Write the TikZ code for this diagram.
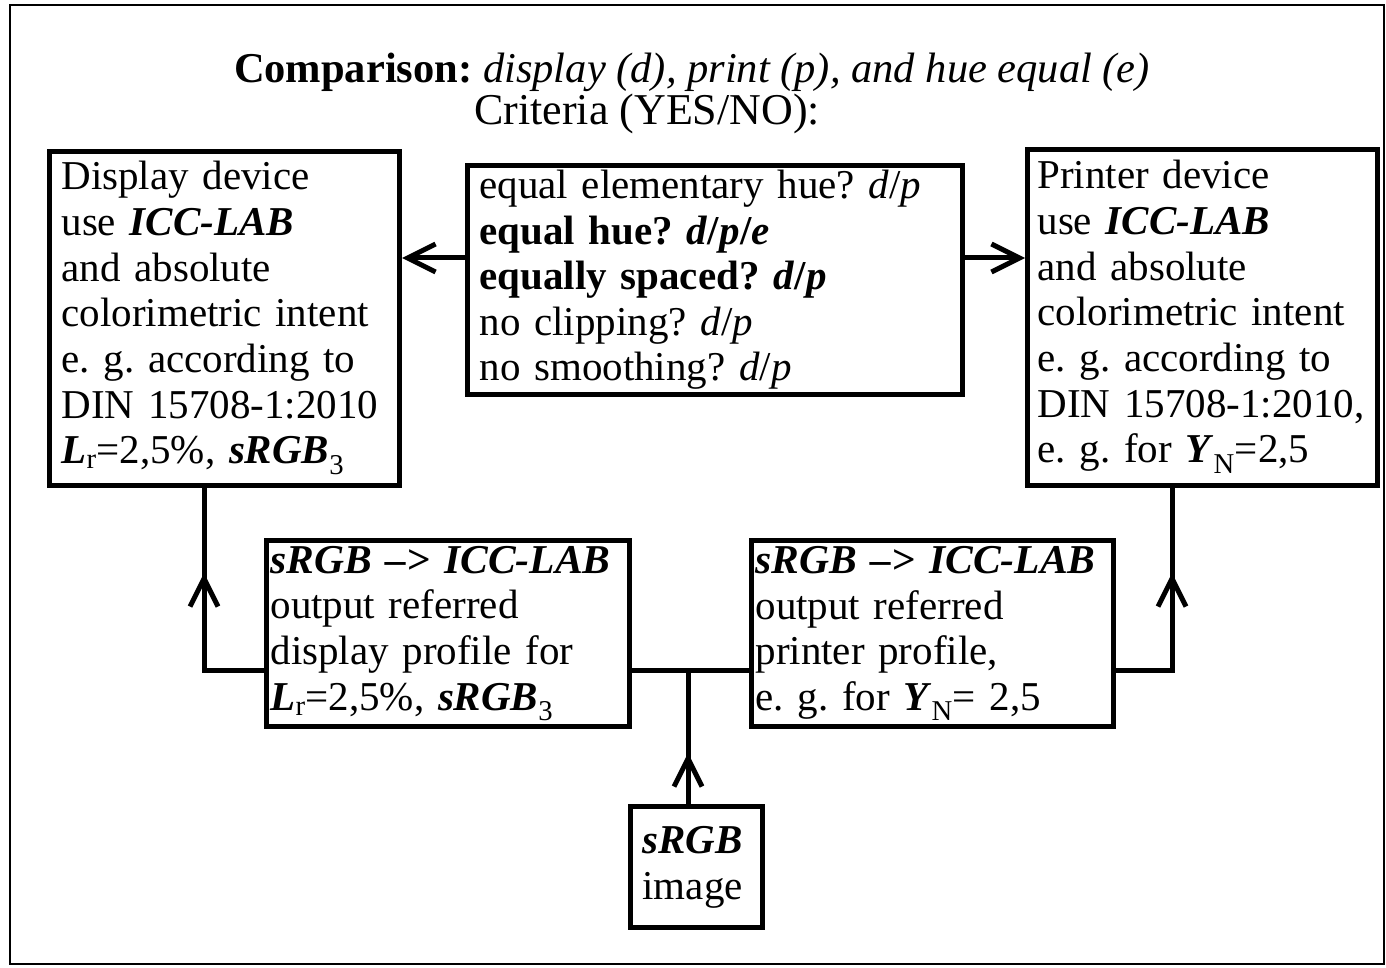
\documentclass[tikz,border=0pt]{standalone}
\usepackage{fontspec}
\usepackage{graphicx}
\setmainfont{Liberation Serif}
\usetikzlibrary{arrows.meta}
\newcommand{\bi}[1]{\textbf{\textit{#1}}}
\newcommand{\dn}[1]{\rule[-#1]{0pt}{0pt}}
\frenchspacing
\begin{document}
\frenchspacing
\begin{tikzpicture}[x=1pt,y=-1pt,
  txt/.style={font=\fontsize{41}{45.7}\selectfont\frenchspacing},
  box/.style={draw, line width=5pt, anchor=north west, align=left, inner xsep=12pt, inner ysep=0pt, txt},
  conn/.style={line width=5pt},
  arr/.style={line width=5pt, -{Straight Barb[length=28pt,width=28pt]}}
]
\useasboundingbox (0,0) rectangle (1386,968);
\fill[white] (0,0) rectangle (1386,968);
\draw[line width=2pt] (10,5) rectangle (1384,964);

\node[font=\fontsize{42.5}{46}\selectfont, anchor=base, inner sep=0pt] (title) at (692,83) {\textbf{Comparison:} \textit{display (d), print (p), and hue equal (e)}};
\node[font=\fontsize{44}{46}\selectfont, anchor=base west, inner sep=0pt] (crit) at (474,125) {Criteria (YES/NO):};

\node[box, minimum width=350pt, minimum height=334pt, text width=326pt] (L) at (47,149)
 {Display device\\use \bi{ICC-LAB}\\and absolute\\colorimetric intent\\e. g. according to\\DIN 15708-1:2010\\\bi{L}\textsubscript{r}=2,5\%, \bi{sRGB}\textsubscript{3}\dn{12pt}};

\node[box, minimum width=495pt, minimum height=229pt, text width=471pt, font=\fontsize{41}{45.5}\selectfont\frenchspacing] (C) at (465,163)
 {equal elementary hue? \textit{d}/\textit{p}\\\textbf{equal hue? \bi{d}/\bi{p}/\bi{e}}\\\textbf{equally spaced? \bi{d}/\bi{p}}\\no clipping? \textit{d}/\textit{p}\\no smoothing? \textit{d}/\textit{p}};

\node[box, minimum width=350pt, minimum height=336pt, text width=330pt, inner xsep=10pt] (R) at (1025,147)
 {Printer device\\use \bi{ICC-LAB}\\and absolute\\colorimetric intent\\e. g. according to\\DIN 15708-1:2010,\\e. g. for \bi{Y}\textsubscript{N}=2,5\dn{12pt}};

\node[box, minimum width=363pt, minimum height=186pt, text width=355pt, inner xsep=4pt] (SL) at (264,538)
 {\resizebox{340pt}{\height}{\bi{sRGB --> ICC-LAB}}\\output referred\\display profile for\\\bi{L}\textsubscript{r}=2,5\%, \bi{sRGB}\textsubscript{3}\dn{6pt}};

\node[box, minimum width=362pt, minimum height=186pt, text width=354pt, inner xsep=4pt] (SR) at (749,538)
 {\resizebox{340pt}{\height}{\bi{sRGB --> ICC-LAB}}\\output referred\\printer profile,\\e. g. for \bi{Y}\textsubscript{N}= 2,5\dn{6pt}};

\node[box, minimum width=132pt, minimum height=121pt, text width=108pt] (I) at (628,804)
 {\bi{sRGB}\\image};

% horizontal arrows from criteria box
\coordinate (ah) at (0,258);
\draw[arr] (C.west |- ah) -- (L.east |- ah);
\draw[arr] (C.east |- ah) -- (R.west |- ah);

% bottom connectors
\coordinate (J) at (688,670);
\coordinate (lc) at (204,670);
\coordinate (lt) at (204,573);
\coordinate (rc) at (1172,670);
\coordinate (rt) at (1172,573);
\coordinate (it) at (688,753);
\draw[conn] (SL.east |- J) -- (SR.west |- J);
\draw[conn] (SL.west |- J) -- (lc) -- (L.south -| lc);
\draw[arr] (lc) -- (lt);
\draw[conn] (SR.east |- J) -- (rc) -- (R.south -| rc);
\draw[arr] (rc) -- (rt);
\draw[conn] (I.north -| J) -- (J);
\draw[arr] (I.north -| J) -- (it);
\end{tikzpicture}
\end{document}
